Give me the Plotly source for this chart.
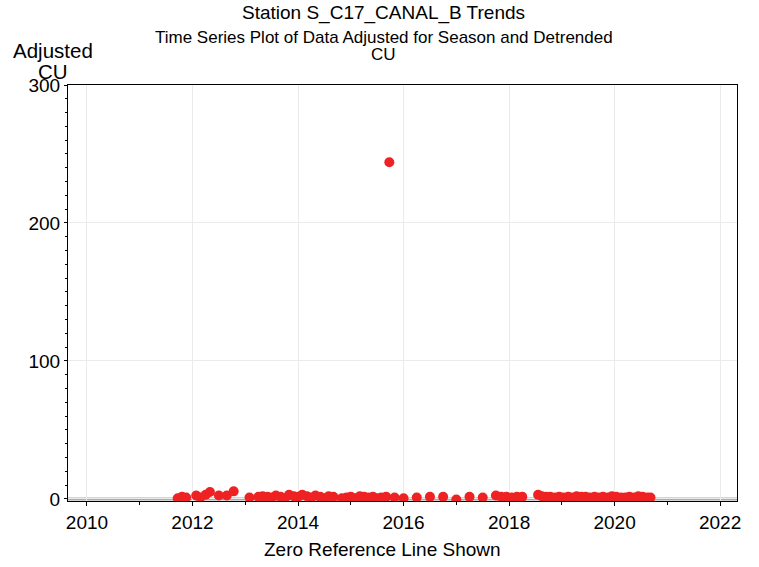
import plotly.graph_objects as go

# Decimal-year dates and adjusted CU values
years = [
    2011.72, 2011.80, 2011.88, 2012.07, 2012.15, 2012.25, 2012.33, 2012.50, 2012.65, 2012.78,
    2013.08, 2013.25, 2013.33, 2013.42, 2013.50, 2013.58, 2013.67, 2013.75, 2013.83, 2013.92,
    2014.00, 2014.08, 2014.17, 2014.25, 2014.33, 2014.42, 2014.50, 2014.58, 2014.67, 2014.83,
    2014.92, 2015.00, 2015.08, 2015.17, 2015.25, 2015.33, 2015.42, 2015.50, 2015.58, 2015.67,
    2015.73, 2015.83, 2016.00, 2016.25, 2016.50, 2016.75, 2017.00, 2017.25, 2017.50, 2017.75,
    2017.85, 2017.95, 2018.05, 2018.15, 2018.25, 2018.55, 2018.62, 2018.70, 2018.78, 2018.87,
    2018.95, 2019.03, 2019.12, 2019.20, 2019.28, 2019.37, 2019.45, 2019.53, 2019.62, 2019.70,
    2019.78, 2019.87, 2019.95, 2020.03, 2020.12, 2020.20, 2020.28, 2020.37, 2020.45, 2020.53,
    2020.62, 2020.68,
]
values = [
    0.5, 1.5, 1.0, 2.5, 1.0, 3.0, 5.0, 2.5, 2.5, 5.5,
    1.0, 1.5, 2.0, 1.5, 1.0, 2.5, 1.5, 0.5, 3.0, 2.0,
    1.5, 3.0, 2.0, 1.0, 2.5, 1.5, 0.5, 2.0, 1.5, 0.5,
    1.0, 1.5, 0.5, 2.0, 1.5, 1.0, 1.5, 0.5, 1.0, 1.5,
    244.0, 1.0, 0.5, 1.0, 1.5, 1.5, -0.5, 1.5, 1.0, 2.5,
    1.5, 1.5, 1.0, 1.5, 1.5, 3.0, 2.0, 1.5, 1.5, 1.0,
    1.5, 1.0, 1.5, 1.0, 2.0, 1.5, 1.5, 1.0, 1.5, 1.0,
    1.5, 1.0, 2.0, 1.5, 1.0, 1.0, 1.5, 1.0, 2.0, 1.5,
    1.0, 1.0,
]

x_ticks = [2010, 2012, 2014, 2016, 2018, 2020, 2022]
y_ticks = [0, 100, 200, 300]

title_text = "Station S_C17_CANAL_B Trends"
subtitle_line1 = "Time Series Plot of Data Adjusted for Season and Detrended"
subtitle_line2 = "CU"
y_title_line1 = "Adjusted"
y_title_line2 = "CU"
x_title = "Zero Reference Line Shown"

FONT = "Liberation Sans, Arial, sans-serif"


def label(text, x, yshift, size, yref_y=1.0):
    return dict(text=text, xref="paper", yref="paper", x=x, y=yref_y,
                yshift=yshift, xanchor="center", yanchor="middle",
                showarrow=False, font=dict(size=size))


fig = go.Figure()
fig.add_trace(go.Scatter(
    x=years, y=values, mode="markers",
    marker=dict(color="#ee2222", size=10, line=dict(width=0)),
    showlegend=False,
))

# zero reference line
fig.add_hline(y=0, line=dict(color="#aaaaaa", width=3), layer="below")

fig.update_layout(
    width=759, height=567,
    margin=dict(l=68, r=22, t=85, b=66),
    paper_bgcolor="white", plot_bgcolor="white",
    font=dict(family=FONT, color="black", size=19),
    showlegend=False,
    annotations=[
        label(title_text, 0.472, 72, 19),
        label(subtitle_line1, 0.472, 48, 17),
        label(subtitle_line2, 0.471, 31, 17),
        label(y_title_line1, -0.022, 35, 20.5),
        label(y_title_line2, -0.022, 14, 20.5),
        label(x_title, 0.47, -48, 19, yref_y=0.0),
    ],
)

fig.update_xaxes(
    range=[2009.64, 2022.32],
    tickmode="array", tickvals=x_ticks, ticktext=[str(t) for t in x_ticks],
    ticks="outside", ticklen=4, tickcolor="black",
    minor=dict(dtick=1, tick0=2009, ticks="outside", ticklen=3, tickcolor="black", showgrid=False),
    showgrid=True, gridcolor="#ebebeb", gridwidth=1,
    showline=True, linecolor="black", linewidth=1, mirror=True,
    zeroline=False, tickfont=dict(size=19),
)
fig.update_yaxes(
    range=[-1.5, 300],
    tickmode="array", tickvals=y_ticks, ticktext=[str(t) for t in y_ticks],
    ticks="outside", ticklen=3, tickcolor="black",
    minor=dict(dtick=10, tick0=0, ticks="outside", ticklen=2, tickcolor="black", showgrid=False),
    showgrid=True, gridcolor="#ebebeb", gridwidth=1,
    showline=True, linecolor="black", linewidth=1, mirror=True,
    zeroline=False, tickfont=dict(size=19),
)

fig.write_html("out.html", config={"displayModeBar": False},
               post_script="document.body.style.margin='0';")
